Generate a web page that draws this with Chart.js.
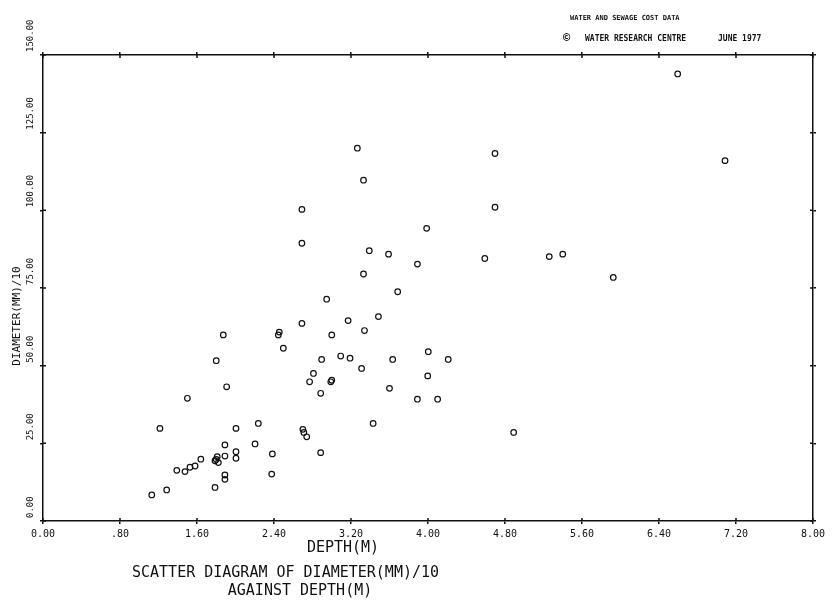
<!DOCTYPE html>
<html>
<head>
<meta charset="utf-8">
<script src="https://cdn.jsdelivr.net/npm/chart.js@4"></script>
<style>
html,body{margin:0;padding:0;background:#fff}
#wrap{width:832px;height:601px;position:relative}
</style>
</head>
<body>
<div id="wrap"><canvas id="chart" width="832" height="601"></canvas></div>
<script>
// depth (m) and diameter (mm)/10
const depth=[1.13,1.285,1.215,1.39,1.475,1.527,1.58,1.64,1.50,1.787,1.822,1.81,1.80,1.89,1.89,1.89,1.89,1.787,2.005,2.005,2.005,1.908,1.80,1.873,2.237,2.203,2.383,2.376,2.445,2.455,2.497,2.69,2.69,2.69,2.70,2.71,2.74,2.885,2.77,2.81,2.99,3.0,2.885,2.895,2.947,3.0,3.093,3.19,3.17,3.266,3.33,3.34,3.33,3.31,3.39,3.43,3.485,3.59,3.60,3.633,3.685,3.89,3.89,3.986,4.003,3.997,4.10,4.21,4.59,4.696,4.696,4.89,5.26,5.40,5.925,6.594,7.086]
const diameter=[8.4,10.0,29.8,16.3,15.9,17.3,17.7,19.9,39.5,19.4,18.8,20.7,19.8,20.9,24.5,14.8,13.4,10.8,22.3,20.2,29.8,43.2,51.6,59.9,31.4,24.8,21.6,15.1,59.9,60.8,55.6,63.6,89.4,100.3,29.5,28.5,27.1,22.0,44.8,47.5,44.8,45.3,41.1,52.0,71.4,59.9,53.1,52.4,64.5,120.0,109.7,61.3,79.5,49.1,87.0,31.4,65.8,85.9,42.7,52.0,73.8,82.7,39.2,94.2,54.5,46.7,39.2,52.0,84.5,118.3,101.0,28.5,85.1,85.9,78.4,143.9,116.0]

const xTicks=[0,0.8,1.6,2.4,3.2,4.0,4.8,5.6,6.4,7.2,8.0]
const xTickLabels=["0.00",".80","1.60","2.40","3.20","4.00","4.80","5.60","6.40","7.20","8.00"]
const yTicks=[0,25,50,75,100,125,150]
const yTickLabels=["0.00","25.00","50.00","75.00","100.00","125.00","150.00"]

const points=depth.map((d,i)=>({x:d,y:diameter[i]}))

const MONO="'DejaVu Sans Mono', monospace"

// tick labels, inner tick marks, titles and header drawn against the scales
const textPlugin={
id:"plotText",
afterDraw(chart){
const ctx=chart.ctx
const xs=chart.scales.x
const ys=chart.scales.y
const a=chart.chartArea
ctx.save()

// inner half of the "+" tick marks
ctx.strokeStyle="#111"
ctx.lineWidth=1.5
ctx.beginPath()
xTicks.forEach(v=>{
const px=xs.getPixelForValue(v)
ctx.moveTo(px,a.bottom);ctx.lineTo(px,a.bottom-3)
ctx.moveTo(px,a.top);ctx.lineTo(px,a.top+3)
})
yTicks.forEach(v=>{
const py=ys.getPixelForValue(v)
ctx.moveTo(a.left,py);ctx.lineTo(a.left+3,py)
ctx.moveTo(a.right,py);ctx.lineTo(a.right-3,py)
})
ctx.stroke()

ctx.fillStyle="#111"
ctx.font="10px "+MONO
ctx.textAlign="center"
ctx.textBaseline="middle"
xTicks.forEach((v,i)=>{
ctx.fillText(xTickLabels[i],xs.getPixelForValue(v),a.bottom+13)
})

ctx.font="9px "+MONO
yTicks.forEach((v,i)=>{
ctx.save()
ctx.translate(31,ys.getPixelForValue(v)-3)
ctx.rotate(-Math.PI/2)
ctx.textAlign="left"
ctx.fillText(yTickLabels[i],0,0)
ctx.restore()
})

ctx.save()
ctx.font="11px "+MONO
ctx.translate(17,ys.getPixelForValue(66))
ctx.rotate(-Math.PI/2)
ctx.textAlign="center"
ctx.fillText("DIAMETER(MM)/10",0,0)
ctx.restore()

ctx.font="15px "+MONO
ctx.textAlign="center"
ctx.fillText("DEPTH(M)",343,548)
ctx.textAlign="left"
ctx.fillText("SCATTER DIAGRAM OF DIAMETER(MM)/10",132,573)
ctx.textAlign="center"
ctx.fillText("AGAINST DEPTH(M)",300,591)

ctx.font="bold 7px "+MONO
ctx.textAlign="left"
ctx.fillText("WATER AND SEWAGE COST DATA",570,18)
ctx.font="bold 8px "+MONO
ctx.fillText("WATER RESEARCH CENTRE",585,39)
ctx.fillText("JUNE 1977",718,39)
ctx.font="bold 12px "+MONO
ctx.fillText("\u00A9",563,39)
ctx.restore()
}
}

const axisBase={
type:"linear",
border:{display:true,color:"#111",width:1.5},
grid:{display:true,drawOnChartArea:false,drawTicks:true,tickLength:3,color:"#111",lineWidth:1.5},
title:{display:false}
}

new Chart(document.getElementById("chart"),{
type:"scatter",
data:{datasets:[{
label:"Diameter",
data:points,
pointStyle:"circle",
pointRadius:2.8,
pointHoverRadius:2.8,
borderColor:"#111",
backgroundColor:"rgba(0,0,0,0)",
pointBorderWidth:1.2
}]},
options:{
responsive:false,
animation:false,
devicePixelRatio:1,
layout:{padding:0},
plugins:{legend:{display:false},tooltip:{enabled:false}},
scales:{
x:{...axisBase,position:"bottom",min:0,max:8,
afterBuildTicks:s=>{s.ticks=xTicks.map(v=>({value:v}))},
ticks:{display:false},
afterFit:s=>{s.height=80}},
x2:{...axisBase,position:"top",min:0,max:8,
afterBuildTicks:s=>{s.ticks=xTicks.map(v=>({value:v}))},
ticks:{display:false},
afterFit:s=>{s.height=55}},
y:{...axisBase,position:"left",min:0,max:150,
afterBuildTicks:s=>{s.ticks=yTicks.map(v=>({value:v}))},
ticks:{display:false},
afterFit:s=>{s.width=43}},
y2:{...axisBase,position:"right",min:0,max:150,
afterBuildTicks:s=>{s.ticks=yTicks.map(v=>({value:v}))},
ticks:{display:false},
afterFit:s=>{s.width=19}}
}
},
plugins:[textPlugin]
})
</script>
</body>
</html>
